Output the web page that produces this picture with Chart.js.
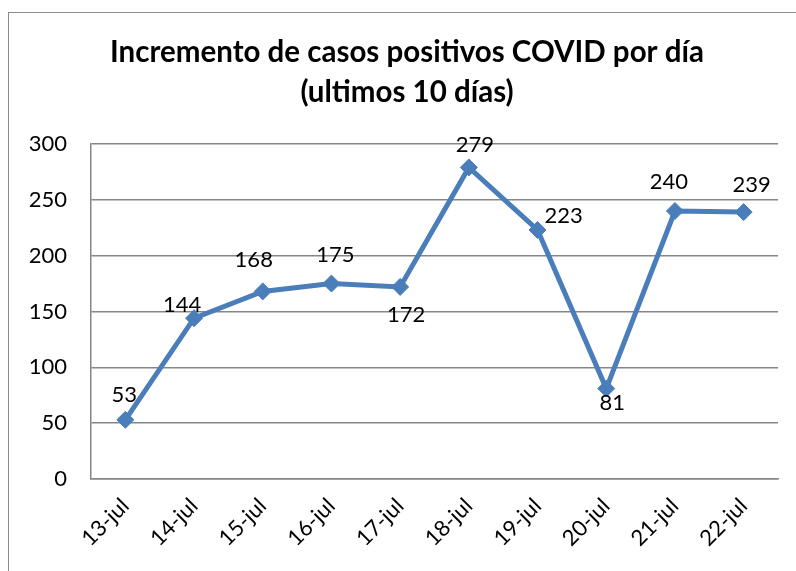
<!DOCTYPE html>
<html>
<head>
<meta charset="utf-8">
<script src="https://cdn.jsdelivr.net/npm/chart.js@4"></script>
<style>
  html, body { margin: 0; padding: 0; background: #fff; overflow: hidden; }
  #wrap { position: relative; width: 796px; height: 571px; }
  #frame { position: absolute; left: 8px; top: 12px; width: 900px; height: 700px; border: 1.5px solid #8c8c8c; box-sizing: border-box; pointer-events: none; }
  canvas { position: absolute; left: 0; top: 0; }
</style>
</head>
<body>
<div id="wrap">
  <canvas id="c" width="796" height="571"></canvas>
  <div id="frame"></div>
</div>
<script>
const categories = ["13-jul","14-jul","15-jul","16-jul","17-jul","18-jul","19-jul","20-jul","21-jul","22-jul"];
const values = [53, 144, 168, 175, 172, 279, 223, 81, 240, 239];
const yTicks = [0, 50, 100, 150, 200, 250, 300];
const titleLines = ["Incremento de casos positivos COVID por día", "(ultimos 10 días)"];
// label offsets (pixels, relative to point) – styling only
const labelOffsets = [[-1,-25],[-12,-13],[-9,-31],[4,-29],[6,28],[6,-23],[26,-14],[6,14],[-6,-29],[8,-27]];

const FONT = "Lato, 'Open Sans', sans-serif";

const dataLabels = {
  id: 'dataLabels',
  afterDatasetsDraw(chart) {
    const ctx = chart.ctx;
    const meta = chart.getDatasetMeta(0);
    ctx.save();
    ctx.font = "22px " + FONT;
    ctx.fillStyle = "#000";
    ctx.textAlign = "center";
    ctx.textBaseline = "middle";
    meta.data.forEach((pt, i) => {
      const o = labelOffsets[i];
      ctx.fillText(String(values[i]), pt.x + o[0], pt.y + o[1]);
    });
    ctx.restore();
  }
};

new Chart(document.getElementById('c'), {
  type: 'line',
  data: {
    labels: categories,
    datasets: [{
      data: values,
      borderColor: '#4a7ebb',
      backgroundColor: '#4a7ebb',
      borderWidth: 5,
      pointStyle: 'rectRot',
      pointRadius: 8.5,
      pointBorderWidth: 1,
      pointBorderColor: '#4a7ebb',
      pointBackgroundColor: '#4a7ebb',
      tension: 0,
      fill: false
    }]
  },
  options: {
    responsive: false,
    animation: false,
    devicePixelRatio: 1,
    layout: { padding: { left: 18, right: 0, top: 0, bottom: 0 } },
    plugins: {
      legend: { display: false },
      tooltip: { enabled: false },
      title: {
        display: true,
        text: titleLines,
        color: '#000',
        font: { family: FONT, size: 29.5, weight: 'bold', lineHeight: '40px' },
        padding: { top: 32, bottom: 32 }
      }
    },
    scales: {
      x: {
        offset: true,
        grid: { display: false, drawTicks: false },
        border: { display: true, color: '#868686', width: 1.5 },
        ticks: {
          color: '#000',
          font: { family: FONT, size: 22 },
          minRotation: 45, maxRotation: 45,
          padding: 14,
          autoSkip: false
        },
        afterFit(scale) { scale.height = 92; }
      },
      y: {
        min: 0, max: 300,
        afterBuildTicks(scale) { scale.ticks = yTicks.map(v => ({ value: v })); },
        grid: { color: '#868686', lineWidth: 1.5, drawTicks: false },
        border: { display: true, color: '#868686', width: 1.5 },
        ticks: {
          color: '#000',
          font: { family: FONT, size: 22 },
          padding: 24
        },
        afterFit(scale) { scale.width = 73; }
      },
      yRight: {
        position: 'right',
        min: 0, max: 300,
        grid: { display: false, drawTicks: false },
        border: { display: false },
        ticks: { display: false },
        afterFit(scale) { scale.width = 18; }
      }
    }
  },
  plugins: [dataLabels]
});
</script>
</body>
</html>
